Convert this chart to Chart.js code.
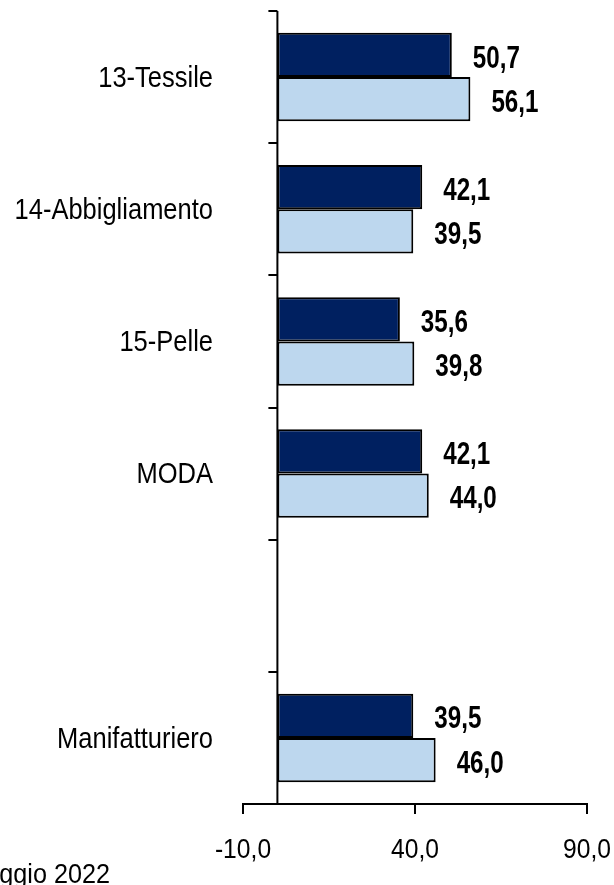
<!DOCTYPE html>
<html>
<head>
<meta charset="utf-8">
<script src="https://cdn.jsdelivr.net/npm/chart.js@4.4.0/dist/chart.umd.min.js"></script>
<style>
  html, body { margin: 0; padding: 0; background: #ffffff; overflow: hidden; }
  #wrap { width: 614px; height: 885px; }
</style>
</head>
<body>
<div id="wrap"><canvas id="c" width="614" height="885"></canvas></div>
<script>
// ---- Data ----
const categories = ['13-Tessile', '14-Abbigliamento', '15-Pelle', 'MODA', '', 'Manifatturiero'];
const seriesDark  = [50.7, 42.1, 35.6, 42.1, null, 39.5];
const seriesLight = [56.1, 39.5, 39.8, 44.0, null, 46.0];
const xTickValues = [-10, 40, 90];
const footnote = 'Maggio 2022';

const FONT = "'Liberation Sans', Arial, sans-serif";
const fmt = v => Number(v).toFixed(1).replace('.', ',');

// draw text horizontally condensed (reference uses a narrow face)
function condensedText(ctx, text, x, y, size, k, align, bold) {
  ctx.save();
  ctx.translate(x, y);
  ctx.scale(k, 1);
  ctx.font = (bold ? 'bold ' : '') + size + 'px ' + FONT;
  ctx.textAlign = align;
  ctx.textBaseline = 'alphabetic';
  ctx.fillStyle = '#000';
  ctx.fillText(text, 0, 0);
  ctx.restore();
}

const axisPlugin = {
  id: 'axisPlugin',
  afterDatasetsDraw(chart) {
    const ctx = chart.ctx;
    const xs = chart.scales.x, ys = chart.scales.y;
    const area = chart.chartArea;
    const x0 = xs.getPixelForValue(0);
    ctx.save();
    ctx.strokeStyle = '#000';
    ctx.lineWidth = 2;
    ctx.beginPath();
    ctx.moveTo(x0, area.top);
    ctx.lineTo(x0, area.bottom);
    ctx.stroke();
    for (let i = 0; i <= categories.length; i++) {
      const y = Math.round(ys.getPixelForValue(i - 0.5));
      ctx.beginPath();
      ctx.moveTo(x0 - 9, y);
      ctx.lineTo(x0, y);
      ctx.stroke();
    }
    ctx.restore();

    // category labels
    categories.forEach((c, i) => {
      if (!c) return;
      const y = ys.getPixelForValue(i);
      condensedText(ctx, c, area.left - 30, y - 1 + 0.358 * 30, 30, 0.85, 'right', false);
    });
    // x tick labels
    xTickValues.forEach(v => {
      const x = xs.getPixelForValue(v);
      condensedText(ctx, fmt(v), x, area.bottom + 54, 28, 0.88, 'center', false);
    });
    // data labels
    chart.data.datasets.forEach((ds, di) => {
      const meta = chart.getDatasetMeta(di);
      meta.data.forEach((el, i) => {
        const v = ds.data[i];
        if (v === null || v === undefined) return;
        condensedText(ctx, fmt(v), el.x + 21, el.y + 1.5 + 0.358 * 31, 31, 0.78, 'left', true);
      });
    });
    // footnote (partly outside the picture, as in the reference)
    condensedText(ctx, footnote, 110, 883, 28, 0.9, 'right', false);
  }
};

const zeroPad = s => { s.paddingTop = 0; s.paddingBottom = 0; s.paddingLeft = 0; s.paddingRight = 0; };

new Chart(document.getElementById('c'), {
  type: 'bar',
  data: {
    labels: categories,
    datasets: [
      { label: 'A', data: seriesDark, backgroundColor: '#002060', borderColor: '#000', borderWidth: 2, borderSkipped: false },
      { label: 'B', data: seriesLight, backgroundColor: '#BDD7EE', borderColor: '#000', borderWidth: 2, borderSkipped: false }
    ]
  },
  options: {
    indexAxis: 'y',
    responsive: false,
    animation: false,
    maintainAspectRatio: false,
    categoryPercentage: 0.67,
    barPercentage: 1.0,
    layout: { padding: { left: 0, right: 27, top: 11, bottom: 0 } },
    plugins: { legend: { display: false }, tooltip: { enabled: false } },
    scales: {
      x: {
        type: 'linear',
        min: -10, max: 90,
        afterBuildTicks: s => { s.ticks = xTickValues.map(v => ({ value: v })); },
        afterFit: s => { s.height = 81; zeroPad(s); },
        grid: { drawOnChartArea: false, drawTicks: true, tickLength: 10, color: '#000', lineWidth: 2 },
        border: { display: true, color: '#000', width: 2 },
        ticks: { display: false, autoSkip: false }
      },
      y: {
        type: 'category',
        afterFit: s => { s.width = 243; zeroPad(s); },
        grid: { display: false, drawTicks: false },
        border: { display: false },
        ticks: { display: false, autoSkip: false }
      }
    }
  },
  plugins: [axisPlugin]
});
</script>
</body>
</html>
